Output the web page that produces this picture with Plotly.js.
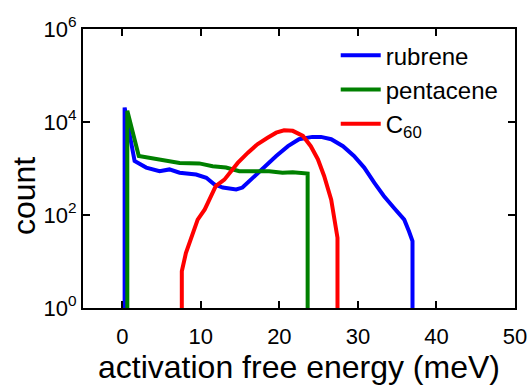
<!DOCTYPE html>
<html><head><meta charset="utf-8">
<script src="https://cdn.plot.ly/plotly-3.0.1.min.js"></script>
<style>html,body{margin:0;padding:0;background:#fff}#c{width:529px;height:392px}</style>
</head><body><div id="c"></div>
<script>
var rubreneX = [0.3,0.3,1.57,3.05,4.75,6.0,7.3,9.4,10.7,11.7,12.8,14.5,15.3,16.4,17.9,19.6,21.1,22.5,24.2,25.3,26.6,28.1,29.5,30.8,32.1,33.3,34.6,35.9,36.5,36.95,36.95];
var rubreneLog = [0,4.31,3.16,3.02,2.94,2.98,2.91,2.87,2.80,2.66,2.59,2.55,2.59,2.76,3.02,3.27,3.48,3.63,3.68,3.68,3.63,3.48,3.27,3.02,2.69,2.41,2.15,1.90,1.65,1.44,0];
var pentaceneX = [0.64,0.64,2.1,3.5,5.2,7.3,9.8,11.5,13.2,14.9,16.6,18.7,20.4,21.7,23.6,23.6];
var pentaceneLog = [0,4.24,3.27,3.23,3.16,3.12,3.11,3.05,3.02,2.94,2.94,2.94,2.91,2.92,2.89,0];
var c60X = [7.58,7.58,8.1,9.0,9.6,10.5,11.1,11.9,13.0,13.9,14.7,16.0,17.2,18.5,19.6,20.6,21.7,23.0,24.0,24.9,25.7,26.6,27.0,27.4,27.4];
var c60Log = [0,0.79,1.18,1.62,1.90,2.12,2.33,2.62,2.76,2.94,3.12,3.34,3.52,3.66,3.77,3.82,3.81,3.70,3.48,3.20,2.84,2.33,1.97,1.51,0];
var xTicks = [0,10,20,30,40,50];
var yTicks = [1,100,10000,1000000];
var yTickText = ['10<sup>0</sup>','10<sup>2</sup>','10<sup>4</sup>','10<sup>6</sup>'];
function pw(a){return a.map(function(v){return Math.pow(10,v);});}
var font = 'Liberation Sans, Arial, sans-serif';
var traces = [
 {x:rubreneX, y:pw(rubreneLog), mode:'lines', name:'rubrene', line:{color:'#0000ff', width:4}},
 {x:pentaceneX, y:pw(pentaceneLog), mode:'lines', name:'pentacene', line:{color:'#008000', width:4}},
 {x:c60X, y:pw(c60Log), mode:'lines', name:'C<sub>60</sub>', line:{color:'#ff0000', width:4}}
];
var axisCommon = {showline:true, linecolor:'#000', linewidth:2, mirror:'ticks', ticks:'inside', ticklen:7, tickwidth:2, tickcolor:'#000', showgrid:false, zeroline:false, tickfont:{family:font, size:22, color:'#000'}};
var layout = {
 width:529, height:392, margin:{l:83, r:14, t:29, b:84},
 paper_bgcolor:'#fff', plot_bgcolor:'#fff', showlegend:true,
 font:{family:font, color:'#000'},
 legend:{x:0.585, y:0.985, xanchor:'left', yanchor:'top', bgcolor:'rgba(0,0,0,0)', font:{family:font, size:24, color:'#000'}, itemwidth:40, tracegroupgap:0},
 xaxis:Object.assign({}, axisCommon, {range:[-5,50], tickvals:xTicks, ticklabelstandoff:8, title:{text:'activation free energy (meV)', font:{family:font, size:32, color:'#000'}, standoff:4}}),
 yaxis:Object.assign({}, axisCommon, {type:'log', range:[0,6], tickvals:yTicks, ticktext:yTickText}),
 annotations:[{text:'count', xref:'paper', yref:'paper', x:-0.135, y:0.40, xanchor:'center', yanchor:'middle', textangle:-90, showarrow:false, font:{family:font, size:32, color:'#000'}}]
};
Plotly.newPlot('c', traces, layout, {staticPlot:true, displayModeBar:false});
</script></body></html>
